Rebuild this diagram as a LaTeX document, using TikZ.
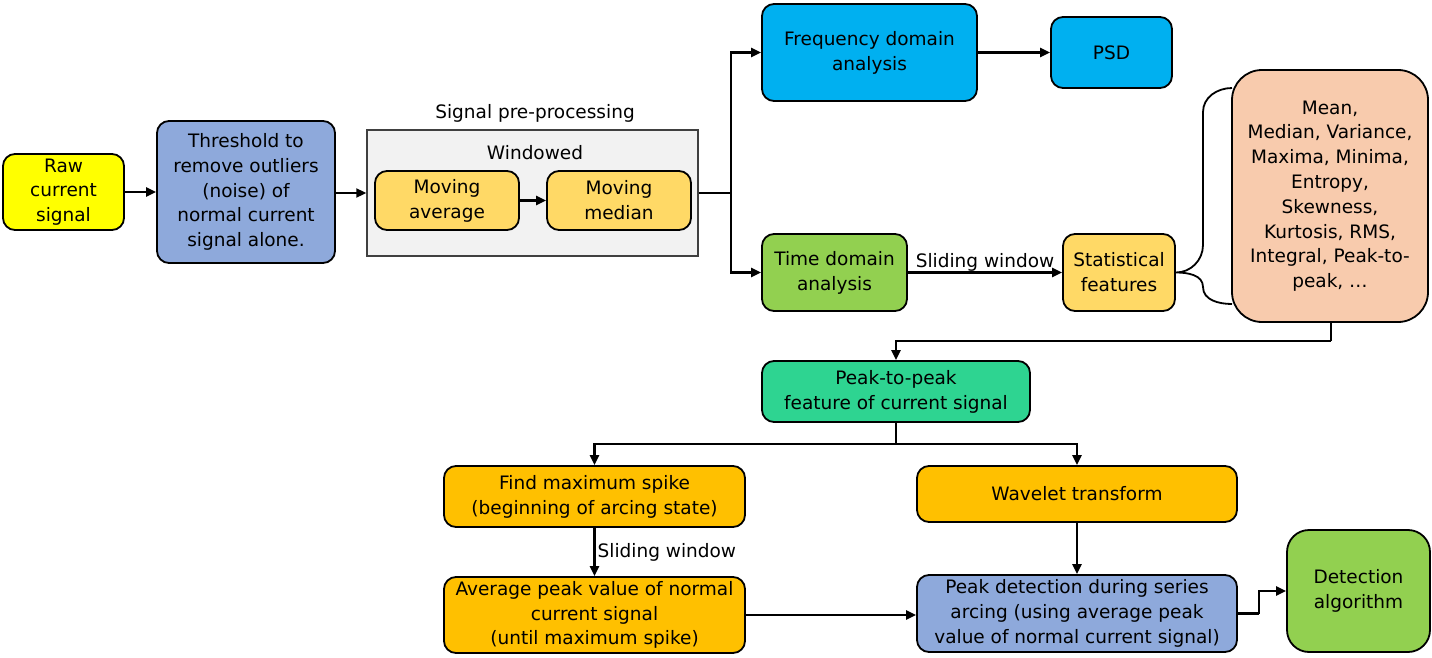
\documentclass[tikz,border=0pt]{standalone}
\usepackage{fontspec}
\setmainfont{DejaVu Sans}
\usetikzlibrary{arrows.meta}
\definecolor{rawc}{HTML}{FFFF00}
\definecolor{bluec}{HTML}{8EA9DB}
\definecolor{grayc}{HTML}{F2F2F2}
\definecolor{goldc}{HTML}{FFD966}
\definecolor{cyanc}{HTML}{00B0F0}
\definecolor{greenc}{HTML}{92D050}
\definecolor{peachc}{HTML}{F8CBAD}
\definecolor{tealc}{HTML}{2ED491}
\definecolor{orangec}{HTML}{FFC000}
\begin{document}
\begin{tikzpicture}[x=1pt,y=-1pt,
  box/.style={draw=black, line width=1.8pt, rounded corners=12pt, align=center,
    font=\fontsize{18.5}{24.8}\selectfont, inner sep=0pt},
  lbl/.style={font=\fontsize{18.5}{24.8}\selectfont, inner sep=1pt},
  arr/.style={line width=2.3pt, -{Triangle[length=10pt,width=9pt]}},
  ln/.style={line width=2.3pt}]
\useasboundingbox (0,0) rectangle (1432,658);

\node[box, fill=rawc, minimum width=121pt, minimum height=76pt] (raw) at (63.5,192) {Raw\\current\\signal};
\node[box, fill=bluec, minimum width=178pt, minimum height=142pt] (thr) at (246,192) {Threshold to\\remove outliers\\(noise) of\\normal current\\signal alone.};
\node[draw=black!75, line width=1.5pt, fill=grayc, minimum width=331pt, minimum height=126pt, inner sep=0pt] (gray) at (532.5,193) {};
\node[lbl] (sp) at (535,113) {Signal pre-processing};
\node[lbl] (win) at (535,153) {Windowed};
\node[box, fill=goldc, minimum width=144pt, minimum height=59pt] (mavg) at (447,200.5) {Moving\\average};
\node[box, fill=goldc, minimum width=144pt, minimum height=59pt] (mmed) at (619,200.5) {Moving\\median};

\node[box, fill=cyanc, minimum width=215pt, minimum height=97pt] (freq) at (869.5,52.5) {Frequency domain\\analysis};
\node[box, fill=cyanc, minimum width=121pt, minimum height=71pt] (psd) at (1111.5,52.5) {PSD};
\node[box, fill=greenc, minimum width=145pt, minimum height=77pt] (time) at (834.5,272.5) {Time domain\\analysis};
\node[box, fill=goldc, minimum width=112pt, minimum height=77pt] (stat) at (1119,272.5) {Statistical\\features};
\node[box, fill=peachc, rounded corners=30pt, minimum width=196pt, minimum height=252pt] (list) at (1330,196) {Mean,\\Median, Variance,\\Maxima, Minima,\\Entropy,\\Skewness,\\Kurtosis, RMS,\\Integral, Peak-to-\\peak, \dots};

\node[box, fill=tealc, minimum width=268pt, minimum height=61pt] (p2p) at (896,391.5) {Peak-to-peak\\feature of current signal};
\node[box, fill=orangec, minimum width=301pt, minimum height=61pt] (find) at (594.5,496.5) {Find maximum spike\\(beginning of arcing state)};
\node[box, fill=orangec, minimum width=320pt, minimum height=56pt] (wav) at (1077,494) {Wavelet transform};
\node[box, fill=orangec, minimum width=301pt, minimum height=76pt] (avg) at (594.5,615) {Average peak value of normal\\current signal\\(until maximum spike)};
\node[box, fill=bluec, minimum width=320pt, minimum height=77pt] (peak) at (1077,613.5) {Peak detection during series\\arcing (using average peak\\value of normal current signal)};
\node[box, fill=greenc, rounded corners=22pt, minimum width=143pt, minimum height=122pt] (det) at (1358.5,591) {Detection\\algorithm};

% connectors
\draw[arr] (raw.east) -- (raw.east -| thr.west);
\draw[arr] (thr.east |- gray.west) -- (gray.west);
\draw[arr] (mavg) -- (mmed);
\coordinate (split) at (731,193);
\draw[ln] (gray.east) -- (split);
\draw[arr] (split) |- (freq.west);
\draw[arr] (split) |- (time.west);
\draw[arr] (freq) -- (psd);
\draw[arr] (time) -- node[lbl, above, yshift=-1pt] (sw1) {Sliding window} (stat);

% brace
\coordinate (bt) at (1232,88);
\coordinate (bb) at (1232,304);
\draw[line width=1.8pt] (bt) to[out=180,in=90] (1203,112) -- (1203,245)
  to[out=-90,in=0] (stat.east) to[out=0,in=90] (1203,287) to[out=-90,in=180] (bb);

\coordinate (c1) at (1331,341);
\draw[ln] (list.south -| c1) -- (c1);
\draw[arr] (c1) -| (p2p.north);
\coordinate (j) at (896,444);
\draw[ln] (p2p.south) -- (j);
\draw[arr] (j) -| (find.north);
\draw[arr] (j) -| (wav.north);
\draw[arr] (find) -- node[lbl, right, xshift=1pt] (sw2) {Sliding window} (avg);
\draw[arr] (wav) -- (peak);
\draw[arr] (avg.east) -- (avg.east -| peak.west);
\coordinate (st) at (1259,613.5);
\draw[ln] (peak.east) -- (st);
\draw[arr] (st) |- (det.west);
\end{tikzpicture}
\end{document}
